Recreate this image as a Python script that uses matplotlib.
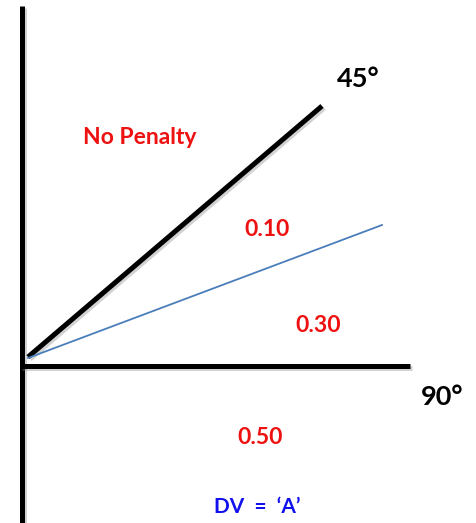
import matplotlib
matplotlib.use("Agg")
import matplotlib.pyplot as plt
import matplotlib.patheffects as pe

W, H = 477, 523
# line segments in pixel coordinates of the diagram: (x0, y0, x1, y1)
axis_lines = [(22, 6, 22, 523), (20, 366, 410, 366)]
diag_45 = (28, 357, 322, 106)
diag_blue = (28, 358, 382, 225)

labels = ["45°", "No Penalty", "0.10", "0.30", "90°", "0.50", "DV  =  ‘A’"]
label_xy = [(358, 79), (140, 138), (267, 230), (318, 326), (442, 397), (260, 438), (257, 507)]
label_color = ["black", "#ee1111", "#ee1111", "#ee1111", "black", "#ee1111", "#1111ee"]
label_size = [19.5, 16.5, 16.5, 16.5, 19.5, 16.5, 15]

fig = plt.figure(figsize=(W / 100, H / 100), dpi=100)
ax = fig.add_axes([0, 0, 1, 1])
ax.set_xlim(0, W)
ax.set_ylim(H, 0)
ax.axis("off")

shadow = [pe.SimpleLineShadow(offset=(1.5, -1.5), shadow_color="gray", alpha=0.35), pe.Normal()]
for x0, y0, x1, y1 in axis_lines:
    ax.plot([x0, x1], [y0, y1], color="black", lw=3.6, solid_capstyle="butt", path_effects=shadow)
ax.plot([diag_45[0], diag_45[2]], [diag_45[1], diag_45[3]], color="black", lw=3.6,
        solid_capstyle="butt", path_effects=shadow)
ax.plot([diag_blue[0], diag_blue[2]], [diag_blue[1], diag_blue[3]], color="#4a7ebb", lw=1.3)

for t, (x, y), c, s in zip(labels, label_xy, label_color, label_size):
    ax.text(x, y, t, color=c, fontsize=s, fontweight="bold", family=["Lato", "DejaVu Sans"],
            ha="center", va="center")

fig.savefig("out.png", dpi=100)
